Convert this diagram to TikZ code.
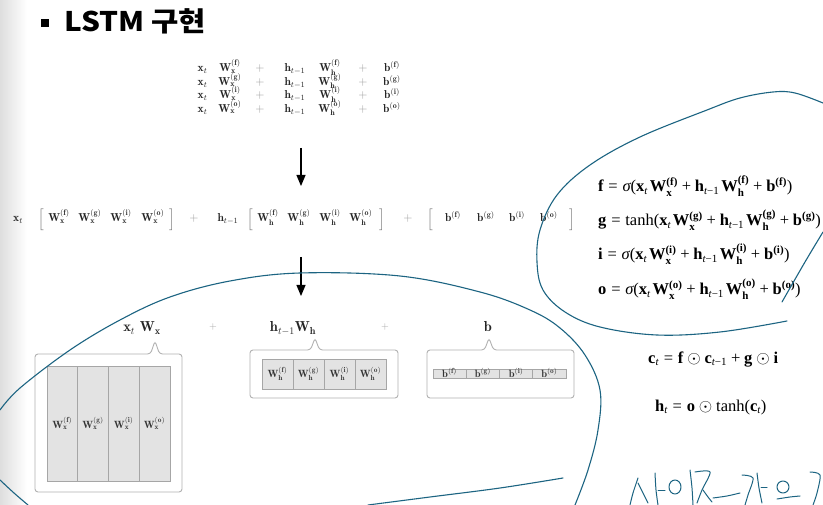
\documentclass[tikz,border=0pt]{standalone}
\usepackage{fontspec}
\usepackage{amsmath}
\usetikzlibrary{arrows.meta}
\newfontfamily\krfont{Noto Sans CJK KR}
\newfontfamily\tnr{Liberation Serif}
% Times-like equation pieces
\newcommand\eqsz{\fontsize{16.5}{16.5}\selectfont}
\newcommand\eB[1]{\hbox{\tnr\bfseries\eqsz #1}}
\newcommand\eR[1]{\hbox{\tnr\eqsz #1}}
\newcommand\eI[1]{\hbox{\tnr\itshape\eqsz #1}}
\newcommand\esR[1]{\hbox{\tnr\fontsize{11}{11}\selectfont #1}}
\newcommand\esB[1]{\hbox{\tnr\bfseries\fontsize{11}{11}\selectfont #1}}
\newcommand\esI[1]{\hbox{\tnr\itshape\fontsize{11}{11}\selectfont #1}}
\newcommand\eEQ{\mathrel{\eR{=}}}
\newcommand\ePL{\mathbin{\eR{+}}}
\newcommand\eWx[1]{\eB{W}^{\esB{(#1)}}_{\esB{x}}}
\newcommand\eWh[1]{\eB{W}^{\esB{(#1)}}_{\esB{h}}}
\newcommand\ext{\eB{x}_{\esI{t}}\mkern2mu}
\newcommand\ehtm{\eB{h}_{\esI{t}\esR{−1}}\mkern2mu}
\newcommand\ebb[1]{\eB{b}^{\esB{(#1)}}}
% CM pieces
\newcommand\cWx[1]{\mathbf{W}_{\mathbf{x}}^{(\mathbf{#1})}}
\newcommand\cWh[1]{\mathbf{W}_{\mathbf{h}}^{(\mathbf{#1})}}
\newcommand\cbb[1]{\mathbf{b}^{(\mathbf{#1})}}
\definecolor{ink}{RGB}{28,100,130}
\begin{document}
\begin{tikzpicture}[x=1pt,y=-1pt,
  tt/.style={inner sep=0pt, anchor=base, text=black!85, font=\fontsize{11.5}{12}\selectfont},
  pl/.style={tt, text=black!40},
  mid/.style={inner sep=0pt, anchor=base, text=black!85, font=\fontsize{11.5}{12}\selectfont},
  midpl/.style={mid, text=black!40},
  brk/.style={mid, text=black!60},
  lab/.style={inner sep=0pt, anchor=base, text=black!85, font=\fontsize{14.5}{15}\selectfont},
  labpl/.style={lab, text=black!35, font=\fontsize{10}{10}\selectfont},
  callout/.style={draw=black!30, line width=0.9pt, fill=white, rounded corners=3pt},
  cell/.style={draw=black!35, line width=0.7pt, fill=black!11, inner sep=0pt, text=black!80, font=\fontsize{10.5}{11}\selectfont},
  cellt/.style={inner sep=0pt, anchor=base, text=black!80, font=\fontsize{10.5}{11}\selectfont},
  eqn/.style={inner sep=0pt, anchor=base west, font=\tnr\eqsz},
  arr/.style={line width=1.1pt, -{Triangle[length=11pt,width=9pt]}},
  hand/.style={draw=ink, line width=1.1pt, line cap=round, line join=round}
]
\useasboundingbox (0,0) rectangle (823,505);
\fill[white] (0,0) rectangle (823,505);
\shade[left color=black!13, right color=white] (0,0) rectangle (27,505);

% title
\fill (41,19) rectangle (49,27);
\node[anchor=base west, inner sep=0pt, font=\krfont\bfseries\fontsize{27}{27}\selectfont] (title) at (64,32) {\scalebox{1.1}[1]{LSTM 구현}};

% top block
\foreach \l [count=\i, evaluate=\i as \yy using 58.5+13.5*\i] in {f,g,i,o} {
  \node[tt] (tx\i)  at (202.5,\yy) {$\mathbf{x}_t$};
  \node[tt] (tw\i)  at (230,\yy) {$\cWx{\l}$};
  \node[pl] (tp\i)  at (260,\yy) {$+$};
  \node[tt] (th\i)  at (295,\yy) {$\mathbf{h}_{t-1}$};
  \node[tt] (twh\i) at (330,\yy) {$\cWh{\l}$};
  \node[pl] (tq\i)  at (363,\yy) {$+$};
  \node[tt] (tb\i)  at (392,\yy) {$\cbb{\l}$};
}

% arrows
\coordinate (a1s) at (301,148);
\coordinate (a1e) at (301,186);
\draw[arr] (a1s) -- (a1e);
\coordinate (a2s) at (301,257);
\coordinate (a2e) at (301,296);
\draw[arr] (a2s) -- (a2e);

% middle row
\node[mid] (mx) at (18,222) {$\mathbf{x}_t$};
\node[brk] (mb1) at (41,223) {$\Big[$};
\node[mid] (mw1) at (59,222) {$\cWx{f}$};
\node[mid] (mw2) at (90,222) {$\cWx{g}$};
\node[mid] (mw3) at (121,222) {$\cWx{i}$};
\node[mid] (mw4) at (153,222) {$\cWx{o}$};
\node[brk] (mb2) at (172,223) {$\Big]$};
\node[midpl] (mp1) at (194,222) {$+$};
\node[mid] (mh) at (228,222) {$\mathbf{h}_{t-1}$};
\node[brk] (mb3) at (250,223) {$\Big[$};
\node[mid] (mv1) at (268,222) {$\cWh{f}$};
\node[mid] (mv2) at (299,222) {$\cWh{g}$};
\node[mid] (mv3) at (330,222) {$\cWh{i}$};
\node[mid] (mv4) at (361,222) {$\cWh{o}$};
\node[brk] (mb4) at (382,223) {$\Big]$};
\node[midpl] (mp2) at (408,222) {$+$};
\node[brk] (mb5) at (430,223) {$\Big[$};
\node[mid] (mc1) at (453,222) {$\cbb{f}$};
\node[mid] (mc2) at (486,222) {$\cbb{g}$};
\node[mid] (mc3) at (517,222) {$\cbb{i}$};
\node[mid] (mc4) at (549,222) {$\cbb{o}$};
\node[brk] (mb6) at (572,223) {$\Big]$};

% lower labels
\node[lab] (lx) at (142,332) {$\mathbf{x}_t\ \mathbf{W}_{\mathbf{x}}$};
\node[labpl] (lp1) at (213,330) {$+$};
\node[lab] (lh) at (293,332) {$\mathbf{h}_{t-1}\mathbf{W}_{\mathbf{h}}$};
\node[labpl] (lp2) at (385,330) {$+$};
\node[lab] (lb) at (488,332) {$\mathbf{b}$};

% callout boxes
\draw[callout] (155,341) -- (159.5,354) -- (182,354) -- (182,492) -- (35,492) -- (35,354) -- (150.5,354) -- cycle;
\draw[callout] (315,338) -- (319.5,350) -- (398,350) -- (398,398) -- (250,398) -- (250,350) -- (310.5,350) -- cycle;
\draw[callout] (489,338) -- (493.5,350) -- (574,350) -- (574,398) -- (427,398) -- (427,350) -- (484.5,350) -- cycle;

% box 1 cells
\foreach \l [count=\i, evaluate=\i as \xx using 31.5+30.75*\i] in {f,g,i,o}
  \node[cell, minimum width=30.75pt, minimum height=115pt] (bx\i) at (\xx,423.5) {$\cWx{\l}$};
% box 2 cells
\foreach \l [count=\i, evaluate=\i as \xx using 246.5+31*\i] in {f,g,i,o}
  \node[cell, minimum width=31pt, minimum height=30pt] (bh\i) at (\xx,374) {$\cWh{\l}$};
% box 3 strip
\foreach \l [count=\i, evaluate=\i as \xx using 416.4+33.25*\i] in {f,g,i,o} {
  \node[cell, minimum width=33.25pt, minimum height=9pt] (bb\i) at (\xx,374) {};
  \node[cellt] (bbt\i) at (\xx,377.5) {$\cbb{\l}$};
}

% right equations
\node[eqn] (ef) at (598,192) {$\eB{f}\eEQ\eI{σ}\eR{(}\ext\eWx{f}\ePL\ehtm\eWh{f}\ePL\ebb{f}\eR{)}$};
\node[eqn] (eg) at (598,226) {$\eB{g}\eEQ\eR{tanh(}\ext\eWx{g}\ePL\ehtm\eWh{g}\ePL\ebb{g}\eR{)}$};
\node[eqn] (ei) at (598,260) {$\eB{i}\eEQ\eI{σ}\eR{(}\ext\eWx{i}\ePL\ehtm\eWh{i}\ePL\ebb{i}\eR{)}$};
\node[eqn] (eo) at (598,295) {$\eB{o}\eEQ\eI{σ}\eR{(}\ext\eWx{o}\ePL\ehtm\eWh{o}\ePL\ebb{o}\eR{)}$};
\node[eqn] (ec) at (648,363) {$\eB{c}_{\esI{t}}\eEQ\eB{f}\mathbin{\odot}\eB{c}_{\esI{t}\esR{−1}}\ePL\eB{g}\mathbin{\odot}\eB{i}$};
\node[eqn] (eh) at (655,411) {$\eB{h}_{\esI{t}}\eEQ\eB{o}\mathbin{\odot}\eR{tanh(}\eB{c}_{\esI{t}}\eR{)}$};

% hand-drawn marks
\draw[hand] plot[smooth, tension=0.6] coordinates {(0,410) (20,388) (70,350) (120,320) (170,297) (230,281) (300,273) (400,276) (480,292) (530,310) (560,328) (585,355) (600,390) (598,430) (588,470) (575,505)};
\draw[hand] plot[smooth, tension=0.6] coordinates {(0,480) (14,493) (28,505)};
\draw[hand] plot[smooth, tension=0.6] coordinates {(368,505) (430,497) (500,488) (563,478)};
\draw[hand] plot[smooth, tension=0.6] coordinates {(823,103) (795,93) (773,92) (740,98) (707,110) (640,137) (590,165) (557,195) (540,230) (537,262) (543,290) (565,312) (600,327) (657,335) (720,332) (787,321)};
\draw[hand] plot[smooth, tension=0.6] coordinates {(823,232) (805,262) (782,302)};
% handwriting strokes
\draw[hand, line width=1pt] plot[smooth] coordinates {(638,478) (633,493) (630,505)};
\draw[hand, line width=1pt] plot[smooth] coordinates {(638,483) (645,497) (648,503)};
\draw[hand, line width=1pt] plot[smooth] coordinates {(655,473) (656,490) (658,505)};
\draw[hand, line width=1pt] (658,490) -- (665,490);
\draw[hand, line width=1pt] (675,487) circle[x radius=6pt, y radius=7pt];
\draw[hand, line width=1pt] plot[smooth] coordinates {(690,470) (692,488) (693,505)};
\draw[hand, line width=1pt] plot[smooth] coordinates {(695,472) (710,472) (702,490) (697,503)};
\draw[hand, line width=1pt] plot[smooth] coordinates {(703,490) (708,497) (712,502)};
\draw[hand, line width=1pt] plot[smooth] coordinates {(713,498) (727,496) (740,493)};
\draw[hand, line width=1pt] plot[smooth] coordinates {(742,475) (753,478) (748,495) (745,505)};
\draw[hand, line width=1pt] plot[smooth] coordinates {(757,473) (759,488) (762,503)};
\draw[hand, line width=1pt] (761,487) -- (767,487);
\draw[hand, line width=1pt] (783,487) circle[x radius=6pt, y radius=6pt];
\draw[hand, line width=1pt] plot[smooth] coordinates {(777,499) (790,497) (800,496)};
\draw[hand, line width=1pt] plot[smooth] coordinates {(810,472) (820,475) (817,493) (813,505)};
\end{tikzpicture}
\end{document}
